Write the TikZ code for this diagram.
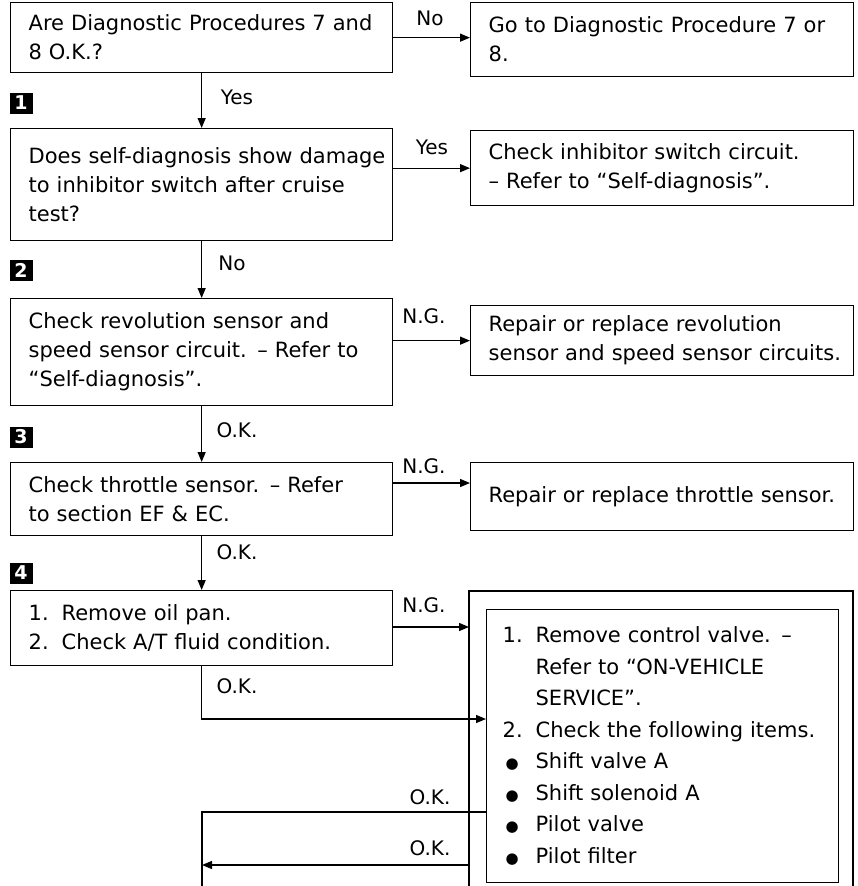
\documentclass[tikz,border=0pt]{standalone}
\usepackage{fontspec}
\setmainfont{DejaVu Sans}
\usetikzlibrary{arrows.meta,positioning}

\tikzset{
  every picture/.style={x=1pt, y=-1pt, line width=1.3pt},
  flowbox/.style={draw, anchor=north west, align=left, inner xsep=18pt, inner ysep=0pt,
    font=\fontsize{21}{29}\selectfont},
  lbl/.style={font=\fontsize{20}{22}\selectfont, inner sep=0pt},
  stepmark/.style={fill=black, text=white, font=\bfseries\fontsize{19}{19}\selectfont,
    minimum width=23pt, minimum height=21pt, inner sep=0pt},
  arr/.style={-{Triangle[length=10pt,width=8pt]}}
}
\newcommand{\numitem}[2]{\makebox[33pt][l]{#1}#2}
\newcommand{\dotitem}[1]{\makebox[33pt][l]{\hspace*{3pt}{\fontsize{15}{15}\selectfont●}}#1}

\begin{document}
\begin{tikzpicture}
    \useasboundingbox (0,0) rectangle (857,886);
    % left column
    \node[flowbox, text width=346pt, minimum height=70pt] (qa) at (10,2)
        {\mbox{Are Diagnostic Procedures 7 and}\\8 O.K.?};
    \node[flowbox, text width=346pt, minimum height=112pt] (qb) at (10,128)
        {\mbox{Does self-diagnosis show damage}\\\mbox{to inhibitor switch after cruise}\\test?};
    \node[flowbox, text width=346pt, minimum height=107pt] (qc) at (10,298)
        {Check revolution sensor and\\\mbox{speed sensor circuit. -- Refer to}\\``Self-diagnosis''.};
    \node[flowbox, text width=346pt, minimum height=73pt] (qd) at (10,462)
        {Check throttle sensor. -- Refer\\to section EF \& EC.};
    \node[flowbox, text width=346pt, minimum height=75pt] (qe) at (10,590)
        {\numitem{1.}{Remove oil pan.}\\\numitem{2.}{Check A/T fluid condition.}};
    % right column
    \node[flowbox, text width=347pt, minimum height=74pt] (ra) at (470,2)
        {\mbox{Go to Diagnostic Procedure 7 or}\\8.};
    \node[flowbox, text width=347pt, minimum height=75pt] (rb) at (470,130)
        {Check inhibitor switch circuit.\\-- Refer to ``Self-diagnosis''.};
    \node[flowbox, text width=347pt, minimum height=70pt] (rc) at (470,305)
        {Repair or replace revolution\\\mbox{sensor and speed sensor circuits.}};
    \node[flowbox, text width=347pt, minimum height=68pt] (rd) at (470,462)
        {\mbox{Repair or replace throttle sensor.}};
    \node[flowbox, inner xsep=16pt, text width=320pt, minimum height=273pt,
        font=\fontsize{21}{31.5}\selectfont] (re) at (486,609)
        {\numitem{1.}{Remove control valve. --}\\\hspace*{33pt}Refer to ``ON-VEHICLE\\\hspace*{33pt}SERVICE''.\\
         \mbox{\numitem{2.}{Check the following items.}}\\\dotitem{Shift valve A}\\\dotitem{Shift solenoid A}\\
         \dotitem{Pilot valve}\\\dotitem{Pilot filter}};
    % outer frame
    \coordinate (frSW) at (469,886);
    \coordinate (frNW) at (469,591);
    \coordinate (frNE) at (853,591);
    \coordinate (frSE) at (853,886);
    \draw (frSW) -- (frNW) -- (frNE) -- (frSE);
    % step marks
    \node[stepmark] (m1) at (21,103) {1};
    \node[stepmark] (m2) at (21,270) {2};
    \node[stepmark] (m3) at (21,437) {3};
    \node[stepmark] (m4) at (21,573) {4};
    % connectors
    \draw[arr] (qa.south) -- (qb.north);
    \draw[arr] (qb.south) -- (qc.north);
    \draw[arr] (qc.south) -- (qd.north);
    \draw[arr] (qd.south) -- (qe.north);
    \draw[arr] (qa.east) -- (qa.east -| ra.west);
    \draw[arr] (rb.west -| qb.east) -- (rb.west);
    \draw[arr] (rc.west -| qc.east) -- (rc.west);
    \coordinate (ngd) at (392,483);
    \draw[arr] (ngd) -- (ngd -| rd.west);
    \coordinate (nge) at (392,627);
    \draw[arr] (nge) -- (nge -| frNW);
    \coordinate (oke) at (486,719);
    \draw[arr] (qe.south) |- (oke);
    \coordinate (back) at (202,886);
    \coordinate (oka) at (486,812);
    \draw (oka) -| (back);
    \coordinate (okb) at (469,865);
    \draw[arr] (okb) -- (okb -| back);
    % labels
    \node[lbl] (l1) at (430,18) {No};
    \node[lbl] (l2) at (237,97) {Yes};
    \node[lbl] (l3) at (432,147) {Yes};
    \node[lbl] (l4) at (232,263) {No};
    \node[lbl] (l5) at (424,316) {N.G.};
    \node[lbl] (l6) at (237,430) {O.K.};
    \node[lbl] (l7) at (424,466) {N.G.};
    \node[lbl] (l8) at (237,552) {O.K.};
    \node[lbl] (l9) at (424,605) {N.G.};
    \node[lbl] (l10) at (237,686) {O.K.};
    \node[lbl] (l11) at (430,797) {O.K.};
    \node[lbl] (l12) at (430,848) {O.K.};
\end{tikzpicture}
\end{document}
